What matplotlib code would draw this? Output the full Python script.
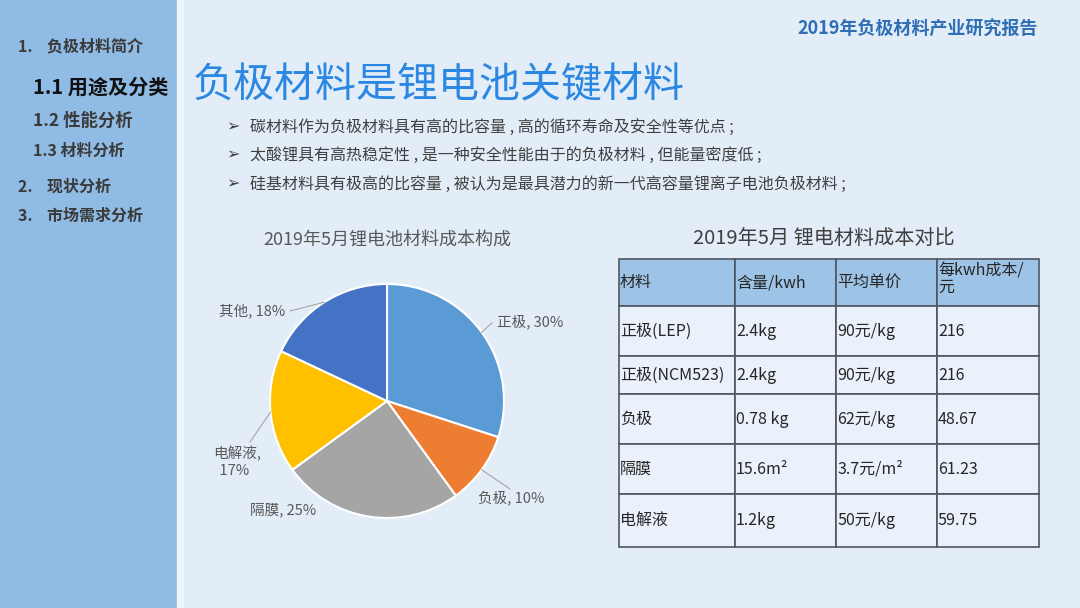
import matplotlib
matplotlib.use("Agg")
import matplotlib.pyplot as plt
from matplotlib.patches import Rectangle
import numpy as np

plt.rcParams['font.family'] = ['Noto Sans CJK SC', 'DejaVu Sans']

# ---- data ----
nav_items = ["1.    负极材料简介", "1.1 用途及分类", "1.2 性能分析", "1.3 材料分析", "2.    现状分析", "3.    市场需求分析"]
report_title = "2019年负极材料产业研究报告"
slide_title = "负极材料是锂电池关键材料"
bullets = [
    "碳材料作为负极材料具有高的比容量 , 高的循环寿命及安全性等优点 ;",
    "太酸锂具有高热稳定性 , 是一种安全性能由于的负极材料 , 但能量密度低 ;",
    "硅基材料具有极高的比容量 , 被认为是最具潜力的新一代高容量锂离子电池负极材料 ;",
]

pie_title = "2019年5月锂电池材料成本构成"
pie_labels = ["正极", "负极", "隔膜", "电解液", "其他"]
pie_values = [30, 10, 25, 17, 18]
pie_colors = ["#5b9bd5", "#ed7d31", "#a5a5a5", "#ffc000", "#4472c4"]

table_title = "2019年5月 锂电材料成本对比"
table_header = ["材料", "含量/kwh", "平均单价", "每kwh成本/\n元"]
table_rows = [
    ["正极(LEP)", "2.4kg", "90元/kg", "216"],
    ["正极(NCM523)", "2.4kg", "90元/kg", "216"],
    ["负极", "0.78 kg", "62元/kg", "48.67"],
    ["隔膜", "15.6m²", "3.7元/m²", "61.23"],
    ["电解液", "1.2kg", "50元/kg", "59.75"],
]

# ---- layout ----
W, H = 1080, 608
fig = plt.figure(figsize=(10.8, 6.08), dpi=100)
ax = fig.add_axes([0, 0, 1, 1])
fig.patch.set_facecolor("#e3edf8")

def Y(y):
    return H - y

# sidebar
ax.add_patch(Rectangle((0, 0), 177, H, color="#8fbbe4", zorder=0))
ax.add_patch(Rectangle((177, 0), 6, H, color="#eef3fb", zorder=0))

nav_pos = [(18, 46), (33, 87), (33, 121), (33, 151), (18, 187), (18, 216)]
nav_size = [11.5, 14.5, 12.5, 11.5, 11.5, 11.5]
nav_color = ["#3a3a3a", "#111111", "#3a3a3a", "#3a3a3a", "#3a3a3a", "#3a3a3a"]
for t, (x, y), s, c in zip(nav_items, nav_pos, nav_size, nav_color):
    ax.text(x, Y(y), t, fontsize=s, color=c, fontweight="bold", va="center", ha="left")

ax.text(1038, Y(29), report_title, fontsize=13, color="#2f6fb6", fontweight="bold",
        style="italic", ha="right", va="center")
ax.text(193, Y(86), slide_title, fontsize=29.5, color="#2b88e2", ha="left", va="center")

for i, b in enumerate(bullets):
    y = 127 + i * 28.5
    ax.text(226, Y(y), "➢", fontsize=11.5, color="#404040", ha="left", va="center",
            family=["DejaVu Sans"])
    ax.text(250, Y(y), b, fontsize=11.5, color="#404040", ha="left", va="center")

# ---- pie ----
cx, cy, r = 387, Y(401), 117
wedges, _ = ax.pie(pie_values, colors=pie_colors, startangle=90, counterclock=False,
                   center=(cx, cy), radius=r, frame=True,
                   wedgeprops=dict(edgecolor="white", linewidth=1.5))
ax.text(cx, Y(240), pie_title, fontsize=13, color="#595959", ha="center", va="center")

label_pos = [(497, 322), (478, 498), (250, 510), (213, 462), (219, 311)]
leader = [True, True, False, True, True]
leader_end = [(492, 323), (510, 489), None, (250, 442), (290, 311)]
for w, lab, v, (lx, ly), ld, le in zip(wedges, pie_labels, pie_values, label_pos,
                                       leader, leader_end):
    txt = f"{lab}, {v}%" if lab != "电解液" else f"{lab},\n  {v}%"
    ax.text(lx, Y(ly), txt, fontsize=10.5, color="#595959", ha="left", va="center",
            linespacing=1.25)
    if ld:
        ang = np.deg2rad((w.theta1 + w.theta2) / 2)
        ex, ey = cx + r * np.cos(ang), cy + r * np.sin(ang)
        ax.plot([ex, le[0]], [ey, Y(le[1])], color="#a6a6a6", lw=0.8, zorder=3)

# ---- table ----
ax.text(824, Y(238), table_title, fontsize=14.5, color="#404040", ha="center", va="center")
col_x = [619, 735, 836, 937, 1039]
row_y = [259, 306, 356, 394, 444, 494, 547]
all_rows = [table_header] + table_rows
for ri, row in enumerate(all_rows):
    y0, y1 = row_y[ri], row_y[ri + 1]
    fill = "#9dc3e6" if ri == 0 else "#eaf1fa"
    for ci, cell in enumerate(row):
        x0, x1 = col_x[ci], col_x[ci + 1]
        ax.add_patch(Rectangle((x0, Y(y1)), x1 - x0, y1 - y0, facecolor=fill,
                               edgecolor="#4f5663", lw=1.2, zorder=2))
        if "\n" in cell:
            ax.text(x0 + 1, Y(y0 + 3), cell, fontsize=11.5, color="#262626", ha="left",
                    va="top", linespacing=1.0, zorder=3)
        else:
            ax.text(x0 + 1, Y((y0 + y1) / 2), cell, fontsize=11.5, color="#262626",
                    ha="left", va="center", zorder=3)

ax.set_xlim(0, W)
ax.set_ylim(0, H)
ax.set_aspect("auto")
ax.axis("off")
fig.savefig("out.png", dpi=100, facecolor=fig.get_facecolor())
